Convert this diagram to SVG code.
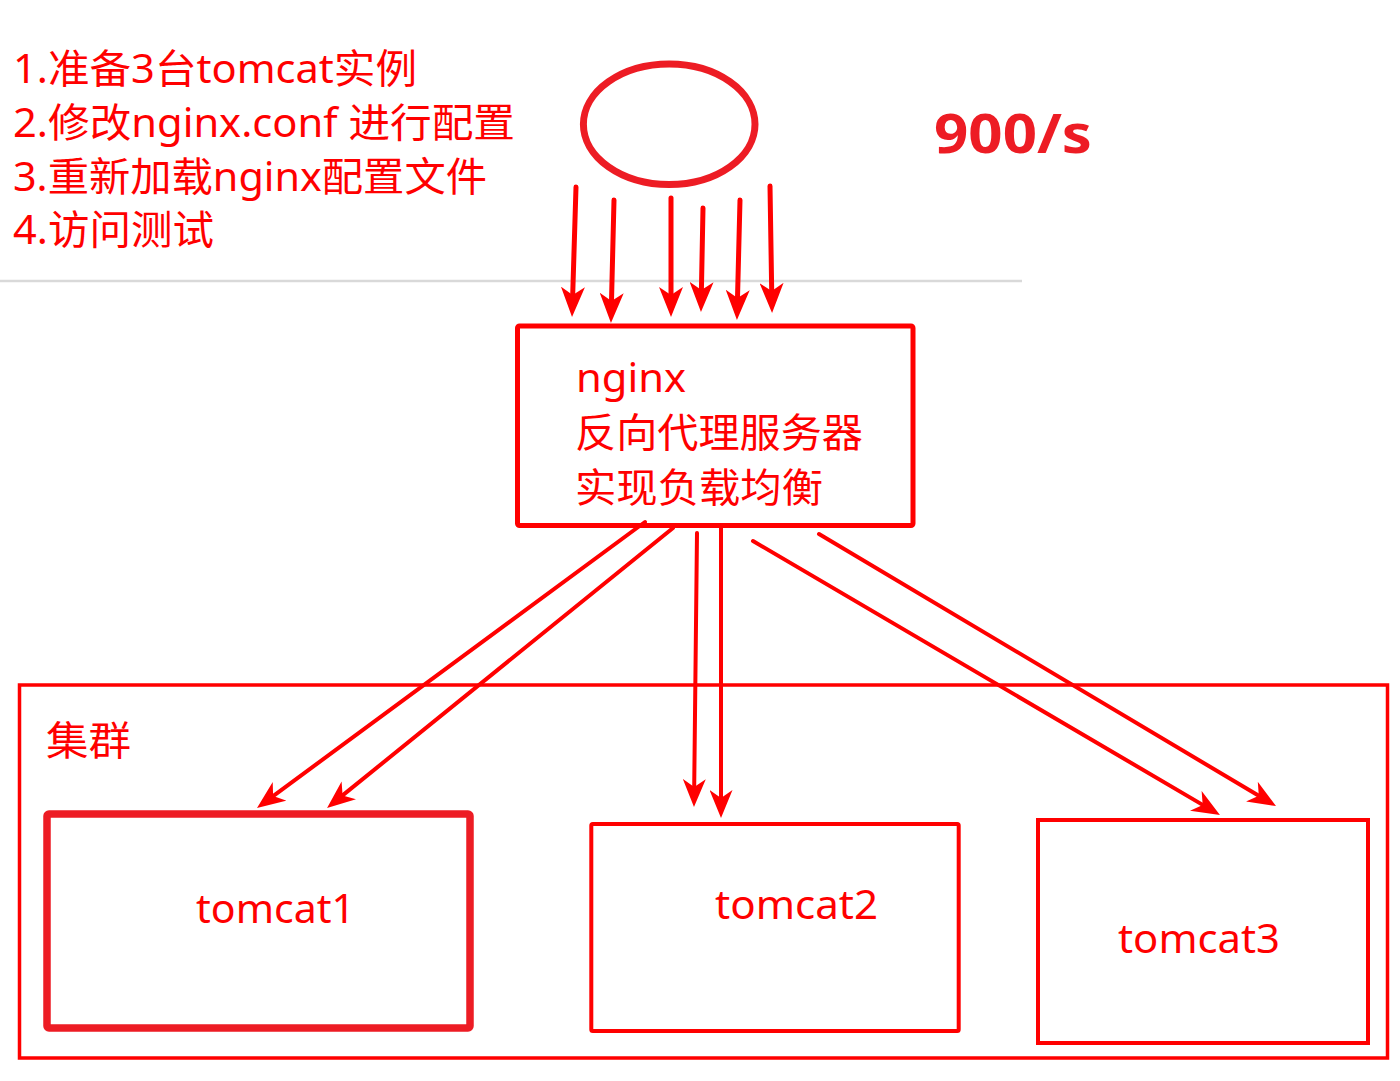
<svg xmlns="http://www.w3.org/2000/svg" width="1400" height="1081" viewBox="0 0 1400 1081">
  <style>
    .t { font-family: "Noto Sans", "Noto Sans CJK SC", sans-serif; font-size: 40px; fill: #ff0000; }
    .b { font-family: "Noto Sans", "Noto Sans CJK SC", sans-serif; font-size: 54px; font-weight: bold; fill: #ed1c24; }
    .box { fill: none; stroke: #ff0000; }
    .in { fill: none; stroke: #ff0000; stroke-width: 5; stroke-linecap: round; marker-end: url(#headIn); }
    .out { fill: none; stroke: #ff0000; stroke-width: 4; stroke-linecap: round; marker-end: url(#headOut); }
  </style>
  <defs>
    <marker id="headIn" markerUnits="userSpaceOnUse" viewBox="0 0 30 24" markerWidth="30" markerHeight="24" refX="8" refY="12" orient="auto">
      <path d="M0,0 L30,12 L0,24 L8,12 Z" fill="#ff0000"/>
    </marker>
    <marker id="headOut" markerUnits="userSpaceOnUse" viewBox="0 0 28 23" markerWidth="28" markerHeight="23" refX="8" refY="11.5" orient="auto">
      <path d="M0,0 L28,11.5 L0,23 L8,11.5 Z" fill="#ff0000"/>
    </marker>
  </defs>
  <rect width="1400" height="1081" fill="#ffffff"/>

  <g id="notes">
    <text class="t" x="13" y="83" textLength="404" lengthAdjust="spacingAndGlyphs">1.准备3台tomcat实例</text>
    <text class="t" x="13" y="137" textLength="502" lengthAdjust="spacingAndGlyphs">2.修改nginx.conf 进行配置</text>
    <text class="t" x="13" y="191" textLength="474" lengthAdjust="spacingAndGlyphs">3.重新加载nginx配置文件</text>
    <text class="t" x="13" y="244" textLength="201" lengthAdjust="spacingAndGlyphs">4.访问测试</text>
  </g>
  <line id="divider" x1="0" y1="281" x2="1022" y2="281" stroke="#d9d9d9" stroke-width="2.5"/>

  <g id="rate">
    <text class="b" x="934" y="153" textLength="158" lengthAdjust="spacingAndGlyphs">900/s</text>
  </g>

  <g id="node-client">
    <ellipse cx="669.2" cy="124.3" rx="85.8" ry="60.2" fill="none" stroke="#ed1c24" stroke-width="7"/>
  </g>

  <g id="node-nginx">
    <rect class="box" x="517.5" y="326" width="395.5" height="199.5" rx="2" stroke-width="5"/>
    <text class="t" x="576" y="392" textLength="110" lengthAdjust="spacingAndGlyphs">nginx</text>
    <text class="t" x="575" y="447" textLength="288" lengthAdjust="spacingAndGlyphs">反向代理服务器</text>
    <text class="t" x="575" y="502" textLength="248" lengthAdjust="spacingAndGlyphs">实现负载均衡</text>
  </g>

  <g id="node-cluster">
    <rect class="box" x="19.5" y="685" width="1368" height="373" stroke-width="3.5"/>
    <text class="t" x="46" y="755" textLength="85" lengthAdjust="spacingAndGlyphs">集群</text>
  </g>

  <g id="node-tomcat1">
    <rect x="47" y="814" width="423" height="214" rx="2" fill="none" stroke="#ed1c24" stroke-width="7.5"/>
    <text class="t" x="196" y="923" textLength="159" lengthAdjust="spacingAndGlyphs">tomcat1</text>
  </g>

  <g id="node-tomcat2">
    <rect class="box" x="591.3" y="824" width="367.4" height="207" rx="1.5" stroke-width="4"/>
    <text class="t" x="715" y="919" textLength="163" lengthAdjust="spacingAndGlyphs">tomcat2</text>
  </g>

  <g id="node-tomcat3">
    <rect class="box" x="1038" y="820" width="330" height="223" stroke-width="4"/>
    <text class="t" x="1118" y="953" textLength="162" lengthAdjust="spacingAndGlyphs">tomcat3</text>
  </g>

  <g id="connectors">
    <path class="in" d="M576,187 L572.7,295"/>
    <path class="in" d="M614,200 L611.5,301"/>
    <path class="in" d="M671,198 L671,295"/>
    <path class="in" d="M703,208 L701.4,290"/>
    <path class="in" d="M740,200 L737.5,298"/>
    <path class="in" d="M770,186 L771.7,291"/>

    <path class="out" d="M645,522 L273.1,796.1"/>
    <path class="out" d="M673,528 L342.6,795.4"/>
    <path class="out" d="M697,533 L694.2,787"/>
    <path class="out" d="M721,526 L721,798"/>
    <path class="out" d="M753,541 L1202.7,804.9"/>
    <path class="out" d="M819,534 L1258.8,795.8"/>
  </g>
</svg>
